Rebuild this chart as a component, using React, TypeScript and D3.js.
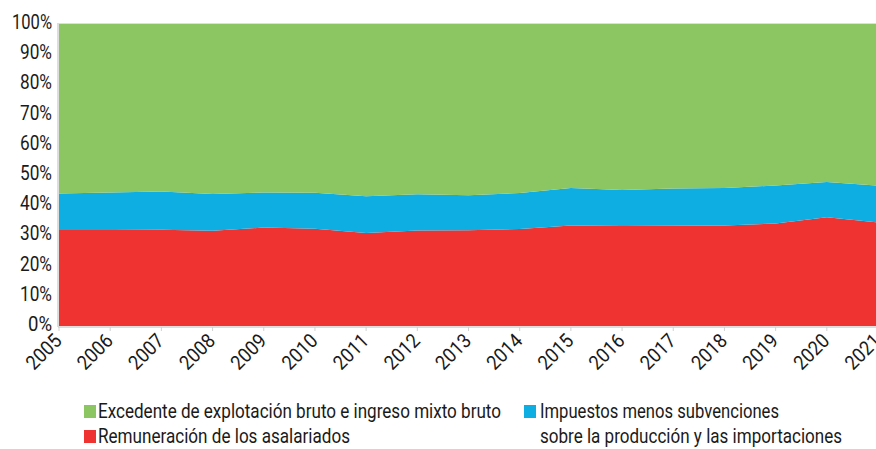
import React from "react";
import * as d3 from "d3";

const years = [2005, 2006, 2007, 2008, 2009, 2010, 2011, 2012, 2013, 2014, 2015, 2016, 2017, 2018, 2019, 2020, 2021];
const remuneracion = [31.8, 31.8, 31.9, 31.5, 32.6, 32.2, 30.8, 31.6, 31.7, 32.1, 33.3, 33.1, 33.2, 33.3, 33.9, 36.0, 34.3];
const impuestos = [12.1, 12.4, 12.6, 12.2, 11.6, 11.9, 12.2, 12.0, 11.6, 11.9, 12.4, 11.9, 12.3, 12.4, 12.6, 11.7, 12.2];
const excedente = remuneracion.map((r, i) => +(100 - r - impuestos[i]).toFixed(1));
const yTicks = [0, 10, 20, 30, 40, 50, 60, 70, 80, 90, 100];

const seriesKeys = ["remuneracion", "impuestos", "excedente"];
const colors: Record<string, string> = {
  remuneracion: "#ee3331",
  impuestos: "#0eaee3",
  excedente: "#8bc663",
};

const legendItems = [
  { key: "excedente", lines: ["Excedente de explotación bruto e ingreso mixto bruto"], widths: [403], col: 0, row: 0 },
  { key: "remuneracion", lines: ["Remuneración de los asalariados"], widths: [252], col: 0, row: 1 },
  {
    key: "impuestos",
    lines: ["Impuestos menos subvenciones", "sobre la producción y las importaciones"],
    widths: [239, 302],
    col: 1,
    row: 0,
  },
];

const W = 876;
const H = 449;
const FONT = "Roboto, 'Noto Sans', sans-serif";
const TXT = "#1a1a1a";

export default function App() {
  React.useEffect(() => {
    document.body.style.margin = "0";
  }, []);

  const x = d3.scaleLinear().domain([2005, 2021]).range([59, 878]);
  const y = d3.scaleLinear().domain([0, 100]).range([326, 24]);

  const rows = years.map((yr, i) => ({
    year: yr,
    remuneracion: remuneracion[i],
    impuestos: impuestos[i],
    excedente: excedente[i],
  }));
  const stacked = d3.stack<any>().keys(seriesKeys)(rows);
  const area = d3
    .area<any>()
    .x((d) => x(d.data.year))
    .y0((d) => y(d[0]))
    .y1((d) => y(d[1]))
    .curve(d3.curveLinear);

  const colX = [84, 524];
  const rowY = [418, 443];

  return (
    <div style={{ position: "absolute", left: 0, top: 0 }}>
      <svg width={W} height={H} style={{ display: "block", background: "#fff" }} fontFamily={FONT}>
        {stacked.map((s) => (
          <path key={s.key} d={area(s) || ""} fill={colors[s.key]} />
        ))}
        {/* axes */}
        <line x1={58} x2={58} y1={23} y2={327} stroke="#d2d2d2" strokeWidth={1.5} />
        <line x1={58} x2={W} y1={327} y2={327} stroke="#d2d2d2" strokeWidth={1.5} />
        <line x1={58} x2={W} y1={23.5} y2={23.5} stroke="#dedede" strokeWidth={1} />
        {years.map((yr) => (
          <line key={"t" + yr} x1={x(yr)} x2={x(yr)} y1={327} y2={331} stroke="#d2d2d2" strokeWidth={1} />
        ))}
        {yTicks.map((t) => {
          const label = `${t}%`;
          return (
            <text
              key={"y" + t}
              x={52}
              y={y(t) - 2}
              dy="0.35em"
              textAnchor="end"
              fontSize={20}
              fill={TXT}
              textLength={8 * String(t).length + 16}
              lengthAdjust="spacingAndGlyphs"
            >
              {label}
            </text>
          );
        })}
        {years.map((yr) => (
          <text
            key={"x" + yr}
            transform={`translate(${x(yr) + 4},${342}) rotate(-45)`}
            textAnchor="end"
            fontSize={20}
            fill={TXT}
            textLength={41}
            lengthAdjust="spacingAndGlyphs"
          >
            {yr}
          </text>
        ))}
        {/* legend */}
        {legendItems.map((it) => {
          const lx = colX[it.col];
          const ly = rowY[it.row];
          return (
            <g key={it.key}>
              <rect x={lx} y={ly - 13} width={12} height={13} fill={colors[it.key]} />
              {it.lines.map((ln, j) => (
                <text
                  key={j}
                  x={lx + (it.col === 0 ? 14 : 16)}
                  y={ly + j * 25}
                  fontSize={20}
                  fill={TXT}
                  textLength={it.widths[j]}
                  lengthAdjust="spacingAndGlyphs"
                >
                  {ln}
                </text>
              ))}
            </g>
          );
        })}
      </svg>
    </div>
  );
}
